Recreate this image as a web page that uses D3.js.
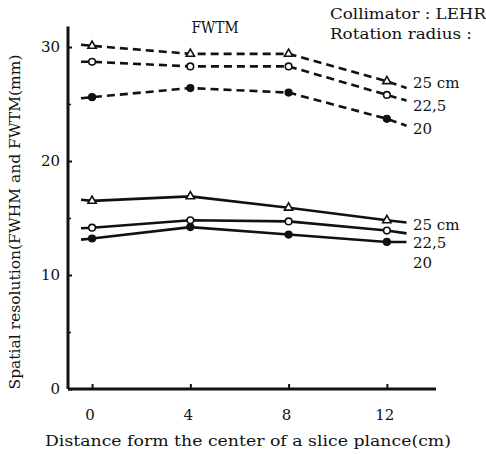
<!DOCTYPE html>
<html><head><meta charset="utf-8">
<script src="https://cdn.jsdelivr.net/npm/d3@7/dist/d3.min.js"></script>
<style>body{margin:0;background:#fff}svg{display:block}text{font-family:"DejaVu Serif","Liberation Serif",serif;fill:#111}</style>
</head><body><svg id="c" width="486" height="454"></svg>
<script>
// ---- data ----
const xPoints = [0, 4, 8, 12];
const lineStartX = -0.45, lineEndX = 12.8;
const radii = ["25 cm", "22,5", "20"];
const markers = ["triangle", "open", "filled"];
// FWTM (dashed)
const fwtm25 = [30.1, 29.4, 29.4, 27.0];
const fwtm225 = [28.7, 28.3, 28.3, 25.8];
const fwtm20 = [25.6, 26.4, 26.0, 23.7];
const fwtmStart = [30.2, 28.7, 25.5];
const fwtmEnd = [26.4, 25.3, 23.1];
// FWHM (solid)
const fwhm25 = [16.5, 16.9, 15.9, 14.8];
const fwhm225 = [14.15, 14.8, 14.7, 13.9];
const fwhm20 = [13.2, 14.2, 13.55, 12.9];
const fwhmStart = [16.6, 14.1, 13.1];
const fwhmEnd = [14.6, 13.65, 12.9];
const yTicks = [0, 10, 20, 30];
const yMinorTicks = [5, 15, 25];
const xTicks = [0, 4, 8, 12];

// ---- scales ----
const svg = d3.select("#c");
const x = d3.scaleLinear().domain([-0.98, 14]).range([68, 436]);
const y = d3.scaleLinear().domain([0, 30]).range([389, 47]);

// axes
const gy = svg.append("g").attr("transform", `translate(${x(-0.98)},0)`)
  .call(d3.axisRight(y).tickValues(yTicks).tickSize(4).tickFormat(""));
gy.select(".domain").attr("d", `M0,${y(0)}V${y(31.8)}`).attr("stroke-width", 3).attr("stroke", "#111");
gy.selectAll(".tick line").attr("stroke-width", 2).attr("stroke", "#111");
svg.append("g").attr("transform", `translate(${x(-0.98)},0)`)
  .call(d3.axisRight(y).tickValues(yMinorTicks).tickSize(3).tickFormat(""))
  .call(g => g.select(".domain").remove())
  .selectAll(".tick line").attr("stroke-width", 1.5).attr("stroke", "#111");
yTicks.forEach(v => svg.append("text").attr("x", 60).attr("y", y(v) + 5).attr("text-anchor", "end")
  .attr("font-size", 15).text(v));

const gx = svg.append("g").attr("transform", `translate(0,${y(0)})`)
  .call(d3.axisTop(x).tickValues(xTicks).tickSize(5).tickFormat(""));
gx.select(".domain").attr("d", `M${x(-0.98)},0H${x(14)}`).attr("stroke-width", 3).attr("stroke", "#111");
gx.selectAll(".tick line").attr("stroke-width", 2).attr("stroke", "#111");
xTicks.forEach(v => svg.append("text").attr("x", x(v) - 2).attr("y", 420)
  .attr("text-anchor", "middle").attr("font-size", 15).text(v));

// titles
svg.append("text").attr("x", 248).attr("y", 446).attr("text-anchor", "middle").attr("font-size", 15)
  .attr("textLength", 406).attr("lengthAdjust", "spacingAndGlyphs")
  .text("Distance form the center of a slice plance(cm)");
svg.append("text").attr("transform", "translate(20,222) rotate(-90)").attr("text-anchor", "middle")
  .attr("font-size", 15).attr("textLength", 335).attr("lengthAdjust", "spacingAndGlyphs")
  .text("Spatial resolution(FWHM and FWTM(mm)");
svg.append("text").attr("x", 215).attr("y", 33).attr("text-anchor", "middle").attr("font-size", 17)
  .attr("textLength", 47).attr("lengthAdjust", "spacingAndGlyphs").text("FWTM");
svg.append("text").attr("x", 330).attr("y", 19).attr("font-size", 14.5)
  .attr("textLength", 156).attr("lengthAdjust", "spacingAndGlyphs").text("Collimator : LEHR");
svg.append("text").attr("x", 330).attr("y", 39).attr("font-size", 14.5)
  .attr("textLength", 142).attr("lengthAdjust", "spacingAndGlyphs").text("Rotation  radius :");

// series
const groups = [
  {vals: [fwtm25, fwtm225, fwtm20], start: fwtmStart, end: fwtmEnd, dash: "8,5", labelY: [88, 111, 134]},
  {vals: [fwhm25, fwhm225, fwhm20], start: fwhmStart, end: fwhmEnd, dash: null, labelY: [230, 248, 268]}
];
const line = d3.line().x(d => x(d[0])).y(d => y(d[1]));
groups.forEach(g => {
  g.vals.forEach((vals, i) => {
    const pts = [[lineStartX, g.start[i]], ...xPoints.map((xv, j) => [xv, vals[j]]), [lineEndX, g.end[i]]];
    const p = svg.append("path").attr("d", line(pts)).attr("fill", "none").attr("stroke", "#111")
      .attr("stroke-width", 2.6);
    if (g.dash) p.attr("stroke-dasharray", g.dash);
    xPoints.forEach((xv, j) => {
      const cx = x(xv), cy = y(vals[j]);
      if (markers[i] === "triangle") {
        svg.append("path").attr("d", d3.symbol(d3.symbolTriangle, 30)()).attr("transform", `translate(${cx},${cy})`)
          .attr("fill", "#fff").attr("stroke", "#111").attr("stroke-width", 1.6);
      } else {
        svg.append("circle").attr("cx", cx).attr("cy", cy).attr("r", 3.3)
          .attr("fill", markers[i] === "filled" ? "#111" : "#fff").attr("stroke", "#111").attr("stroke-width", 1.6);
      }
    });
    svg.append("text").attr("x", 413).attr("y", g.labelY[i]).attr("font-size", 15).text(radii[i]);
  });
});
</script></body></html>
